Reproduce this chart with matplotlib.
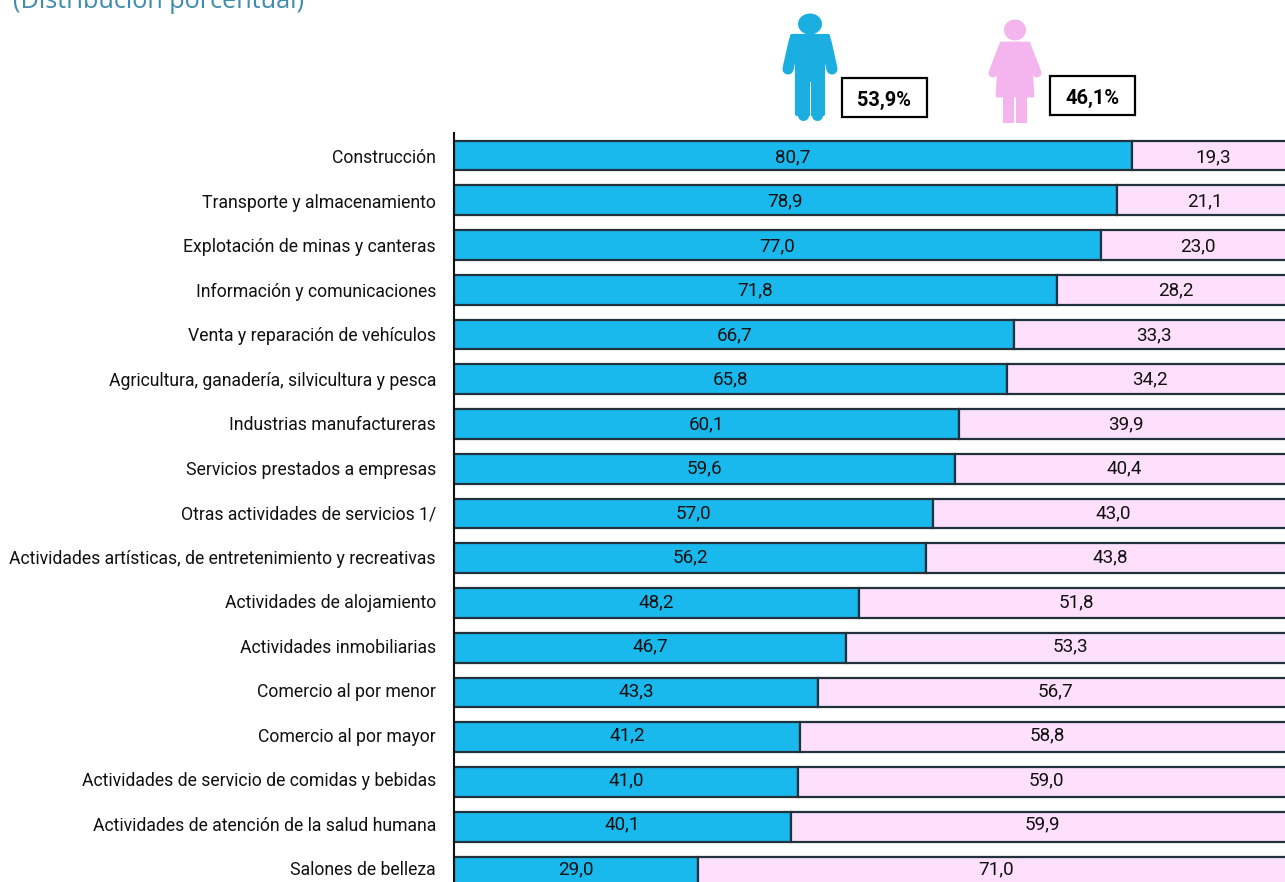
import matplotlib
matplotlib.use("Agg")
import matplotlib.pyplot as plt
from matplotlib.patches import Ellipse, Polygon, Rectangle

FONT = 'Roboto'

categories = ["Construcción", "Transporte y almacenamiento", "Explotación de minas y canteras",
              "Información y comunicaciones", "Venta y reparación de vehículos",
              "Agricultura, ganadería, silvicultura y pesca", "Industrias manufactureras",
              "Servicios prestados a empresas", "Otras actividades de servicios 1/",
              "Actividades artísticas, de entretenimiento y recreativas", "Actividades de alojamiento",
              "Actividades inmobiliarias", "Comercio al por menor", "Comercio al por mayor",
              "Actividades de servicio de comidas y bebidas", "Actividades de atención de la salud humana",
              "Salones de belleza"]
hombres = [80.7, 78.9, 77.0, 71.8, 66.7, 65.8, 60.1, 59.6, 57.0, 56.2, 48.2, 46.7, 43.3, 41.2, 41.0, 40.1, 29.0]
mujeres = [19.3, 21.1, 23.0, 28.2, 33.3, 34.2, 39.9, 40.4, 43.0, 43.8, 51.8, 53.3, 56.7, 58.8, 59.0, 59.9, 71.0]
total_labels = ["53,9%", "46,1%"]
title = "(Distribución porcentual)"

W, H = 1285, 882
fig = plt.figure(figsize=(W / 100, H / 100), dpi=100, facecolor='white')

ax = fig.add_axes([454 / W, 0, (1285 - 454) / W, (882 - 133) / H])
ax.set_xlim(0, 100 * (1285 - 454) / 840)
ax.set_ylim((882 - 155.5) / 44.75, (133 - 155.5) / 44.75)
ypos = list(range(len(categories)))
lab_y = [i * 44.5 / 44.75 + 0.02 for i in ypos]   # the text rows run on a slightly tighter pitch than the bars
val_y = [y - 0.03 for y in lab_y]
BLUE, PINK, EDGE = '#19B9EE', '#FEE0FC', '#22323c'
ax.barh(ypos, hombres, height=0.665, color=BLUE, edgecolor=EDGE, linewidth=1.6)
ax.barh(ypos, mujeres, left=hombres, height=0.665, color=PINK, edgecolor=EDGE, linewidth=1.6)
for y, m, f in zip(val_y, hombres, mujeres):
    ax.text(m / 2, y, f"{m:.1f}".replace('.', ','), ha='center', va='center_baseline', family=FONT, fontsize=13.6, color='#111111')
    ax.text(m + f / 2, y, f"{f:.1f}".replace('.', ','), ha='center', va='center_baseline', family=FONT, fontsize=13.6, color='#111111')
ax.set_yticks(lab_y, categories, family=FONT, fontsize=12.7, color='#111111')
ax.set_xticks([])
ax.tick_params(axis='y', length=0, pad=13)
for s in ['top', 'right', 'bottom']:
    ax.spines[s].set_visible(False)
ax.spines['left'].set_linewidth(1.5)
ax.spines['left'].set_color('#111111')

ov = fig.add_axes([0, 0, 1, 1], facecolor='none')
ov.set_xlim(0, W)
ov.set_ylim(H, 0)
ov.axis('off')

MAN, WOMAN = '#1AAFE0', '#F4B4EE'
ov.add_patch(Ellipse((810, 24), 24, 21, color=MAN, lw=0))
ov.add_patch(Polygon([(792, 36), (828, 36), (830, 50), (823, 55), (823, 114), (797, 114), (797, 55), (790, 50)],
                     closed=True, facecolor=MAN, edgecolor=MAN, lw=3, joinstyle='round'))
for xs, ys in [((794, 788), (42, 69)), ((826, 832), (42, 69)), ((803, 803), (80, 115)), ((817, 817), (80, 115))]:
    ov.plot(xs, ys, color=MAN, lw=8, solid_capstyle='round')
ov.plot((810, 810), (82, 120), color='white', lw=0.7)

ov.add_patch(Ellipse((1015, 30), 22, 21, color=WOMAN, lw=0))
ov.add_patch(Polygon([(1001, 43), (1029, 43), (1031, 60), (1033, 96), (997, 96), (999, 60)],
                     closed=True, facecolor=WOMAN, edgecolor=WOMAN, lw=2, joinstyle='round'))
for xs, ys in [((1003, 993), (47, 73)), ((1027, 1037), (47, 73))]:
    ov.plot(xs, ys, color=WOMAN, lw=6.5, solid_capstyle='round')
ov.add_patch(Rectangle((1003, 95), 11, 28, color=WOMAN, lw=0))
ov.add_patch(Rectangle((1016, 95), 11, 28, color=WOMAN, lw=0))

for (x0, y0, x1, y1), lab in zip([(842, 78, 927, 117), (1050, 76, 1135, 115)], total_labels):
    ov.add_patch(Rectangle((x0, y0), x1 - x0, y1 - y0, facecolor='white', edgecolor='black', lw=1.6))
    ov.text((x0 + x1) / 2, (y0 + y1) / 2 + 1, lab, ha='center', va='center_baseline', family=FONT, fontsize=14.4, fontweight='bold', color='black')

ov.text(13, 8, title, ha='left', va='baseline', family='Open Sans', fontsize=18.2, color='#3F8CAE')

fig.savefig('out.png', dpi=100)
